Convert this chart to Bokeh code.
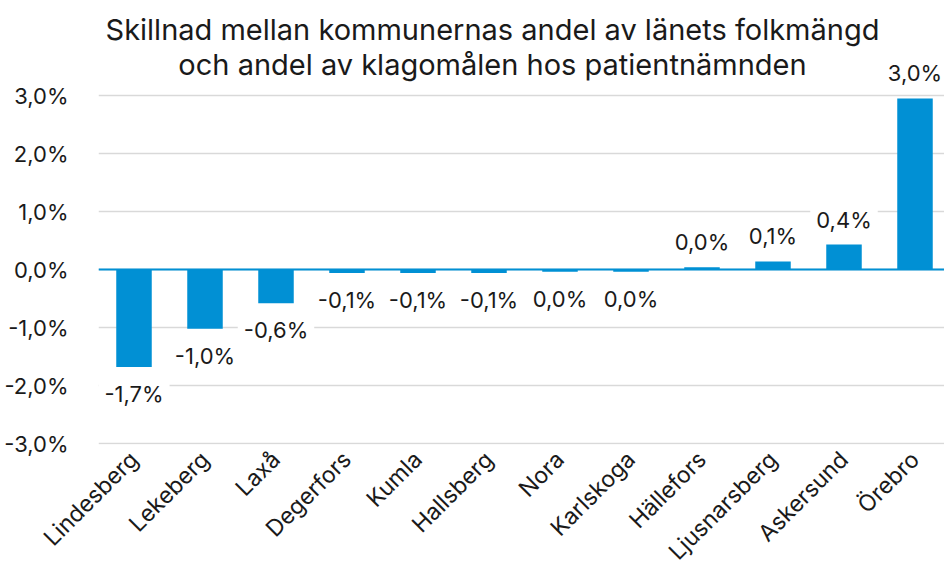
import math
from bokeh.plotting import figure
from bokeh.models import Range1d, FixedTicker, Span, Label, ColumnDataSource
from bokeh.core.properties import value
from bokeh.embed import file_html
from bokeh.resources import INLINE

# ---- data ----
categories = ["Lindesberg", "Lekeberg", "Laxå", "Degerfors", "Kumla", "Hallsberg",
              "Nora", "Karlskoga", "Hällefors", "Ljusnarsberg", "Askersund", "Örebro"]
diff_pct = [-1.68, -1.02, -0.58, -0.06, -0.06, -0.06, -0.04, -0.04, 0.04, 0.14, 0.43, 2.95]
y_ticks = [-3, -2, -1, 0, 1, 2, 3]
title_lines = ["Skillnad mellan kommunernas andel av länets folkmängd",
               "och andel av klagomålen hos patientnämnden"]

FONT = "Inter"
BLUE = "#0190D4"
TXT = "#1a1a1a"


def fmt(v):
    r = round(v, 1)
    if r == 0:
        r = 0.0
    return f"{r:.1f}".replace(".", ",") + "%"


xs = list(range(len(categories)))
pos = dict(x=[x for x, v in zip(xs, diff_pct) if v >= 0],
           y=[v for v in diff_pct if v >= 0],
           t=[fmt(v) for v in diff_pct if v >= 0])
neg = dict(x=[x for x, v in zip(xs, diff_pct) if v < 0],
           y=[v for v in diff_pct if v < 0],
           t=[fmt(v) for v in diff_pct if v < 0])

W, H = 944, 578
BL, BB = 98, 134
FW, FH = W - BL, H - BB
X0, X1 = -0.5, -0.5 + FW / 71.0
Y1 = 269 / 58.0
Y0 = Y1 - FH / 58.0

p = figure(width=W, height=H, output_backend="svg", toolbar_location=None,
           x_range=Range1d(X0, X1), y_range=Range1d(Y0, Y1),
           min_border_left=BL, min_border_right=0, min_border_top=0, min_border_bottom=BB)
p.outline_line_color = None
p.background_fill_color = "white"
p.border_fill_color = "white"

# grid
p.xgrid.grid_line_color = None
p.ygrid.ticker = FixedTicker(ticks=y_ticks)
p.ygrid.grid_line_color = "#d9d9d9"
p.ygrid.grid_line_width = 1.5

# y axis
p.yaxis.ticker = FixedTicker(ticks=y_ticks)
p.yaxis.major_label_overrides = {t: fmt(t) for t in y_ticks}
p.yaxis.axis_line_color = None
p.yaxis.major_tick_line_color = None
p.yaxis.minor_tick_line_color = None
p.yaxis.major_label_standoff = 24
p.yaxis.major_label_text_font = FONT
p.yaxis.major_label_text_font_size = "22px"
p.yaxis.major_label_text_color = TXT

# x axis
p.xaxis.ticker = FixedTicker(ticks=xs)
p.xaxis.major_label_overrides = {i: c for i, c in enumerate(categories)}
p.xaxis.major_label_orientation = math.pi / 4
p.xaxis.axis_line_color = None
p.xaxis.major_tick_line_color = None
p.xaxis.minor_tick_line_color = None
p.xaxis.major_label_standoff = 5
p.xaxis.major_label_text_font = FONT
p.xaxis.major_label_text_font_size = "23px"
p.xaxis.major_label_text_color = TXT

# value labels (with white background that hides gridlines)
for d, base, off in ((pos, "alphabetic", -25), (neg, "top", 8)):
    p.text(x="x", y="y", text="t", source=ColumnDataSource(d),
           text_align="center", text_baseline=base, y_offset=off,
           text_font=value(FONT), text_font_size="22px", text_color=TXT,
           background_fill_color="white", padding=6)

# bars
p.vbar(x=xs, top=diff_pct, bottom=0, width=0.5, fill_color=BLUE, line_color=None)

# zero line
p.add_layout(Span(location=0, dimension="width", line_color=BLUE, line_width=2))

# title (two centred lines)
px = (X1 - X0) / FW
py = (Y1 - Y0) / FH
cx = X0 + (492 - BL) * px
for line, y_img in zip(title_lines, (29, 64)):
    p.add_layout(Label(x=cx, y=Y1 - y_img * py, text=line,
                       text_align="center", text_baseline="middle",
                       text_font=FONT, text_font_size="29px", text_color=TXT))

open("out.html", "w").write(file_html(p, INLINE))
